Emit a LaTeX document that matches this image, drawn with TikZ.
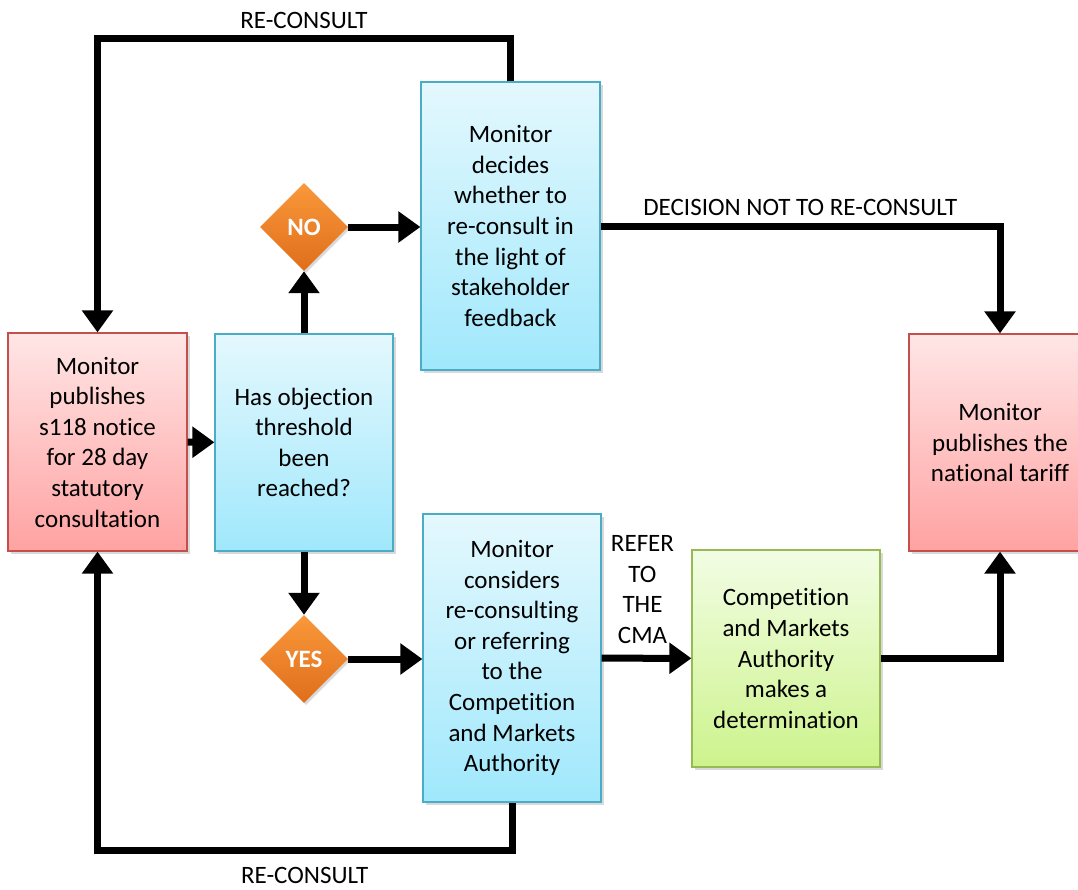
\documentclass[tikz,border=0pt]{standalone}
\usepackage{fontspec}
\setmainfont{Carlito}[Ligatures=NoCommon]
\usetikzlibrary{arrows.meta,shapes.geometric,shadows}
\definecolor{redtop}{RGB}{255,230,230}
\definecolor{redbot}{RGB}{255,162,162}
\definecolor{redline}{RGB}{195,80,77}
\definecolor{bluetop}{RGB}{228,248,253}
\definecolor{bluebot}{RGB}{160,232,252}
\definecolor{blueline}{RGB}{75,172,198}
\definecolor{greentop}{RGB}{242,253,228}
\definecolor{greenbot}{RGB}{205,243,140}
\definecolor{greenline}{RGB}{150,187,85}
\definecolor{orangetop}{RGB}{249,152,58}
\definecolor{orangebot}{RGB}{224,110,28}
\tikzset{
  txt/.style={font=\fontsize{25}{30.6}\selectfont, align=center},
  box/.style={txt, draw, line width=1.2pt, inner sep=4pt,
    drop shadow={opacity=0.3, shadow xshift=3pt, shadow yshift=-3pt}},
  redbox/.style={box, draw=redline, top color=redtop, bottom color=redbot},
  bluebox/.style={box, draw=blueline, top color=bluetop, bottom color=bluebot},
  greenbox/.style={box, draw=greenline, top color=greentop, bottom color=greenbot},
  choice/.style={diamond, aspect=1, minimum size=88pt, inner sep=0pt,
    top color=orangetop, bottom color=orangebot, text=white,
    font=\fontsize{25}{28}\selectfont\bfseries,
    drop shadow={opacity=0.3, shadow xshift=2pt, shadow yshift=-2pt}},
  arr/.style={line width=7pt, -{Triangle[length=22pt,width=30pt]}}
}
\begin{document}
\begin{tikzpicture}[x=1pt,y=-1pt]
    \useasboundingbox (0,0) rectangle (1078,889);
    \node[redbox, minimum width=179pt, minimum height=218pt] (pub) at (97.5,442)
      {Monitor\\publishes\\s118 notice\\for 28 day\\statutory\\consultation};
    \node[bluebox, minimum width=178pt, minimum height=217pt] (thresh) at (304,442.5)
      {Has objection\\threshold\\been\\reached?};
    \node[choice] (no) at (304,227) {NO};
    \node[choice] (yes) at (304,659) {YES};
    \node[bluebox, minimum width=179pt, minimum height=288pt] (decide) at (510.5,226)
      {Monitor\\decides\\whether to\\re-consult in\\the light of\\stakeholder\\feedback};
    \node[bluebox, minimum width=178pt, minimum height=288pt] (consider) at (512,658)
      {Monitor\\considers\\re-consulting\\or referring\\to the\\Competition\\and Markets\\Authority};
    \node[greenbox, minimum width=188pt, minimum height=217pt] (cma) at (786,658.5)
      {Competition\\and Markets\\Authority\\makes a\\determination};
    \node[redbox, minimum width=182pt, minimum height=217pt] (tariff) at (1000,442.5)
      {Monitor\\publishes the\\national tariff};

    \draw[arr] (pub) -- (thresh);
    \draw[arr] (thresh) -- (no);
    \draw[arr] (thresh) -- (yes);
    \draw[arr] (no) -- (decide.west |- no);
    \draw[arr] (yes) -- (consider.west |- yes);
    \draw[arr] (decide.north) -- ++(0,-43) -| node[txt, pos=0.25, above=3pt] {RE-CONSULT} (pub.north);
    \draw[arr] (consider.south) -- ++(0,48) -| node[txt, pos=0.25, below=10pt] {RE-CONSULT} (pub.south);
    \draw[arr] (decide.east) -| node[txt, pos=0.25, above=3pt] {DECISION NOT TO RE-CONSULT} (tariff.north);
    \draw[arr] (consider) -- node[txt, above=8pt, xshift=-4pt] {REFER\\TO\\THE\\CMA} (cma);
    \draw[arr] (cma.east) -| (tariff.south);
\end{tikzpicture}
\end{document}
